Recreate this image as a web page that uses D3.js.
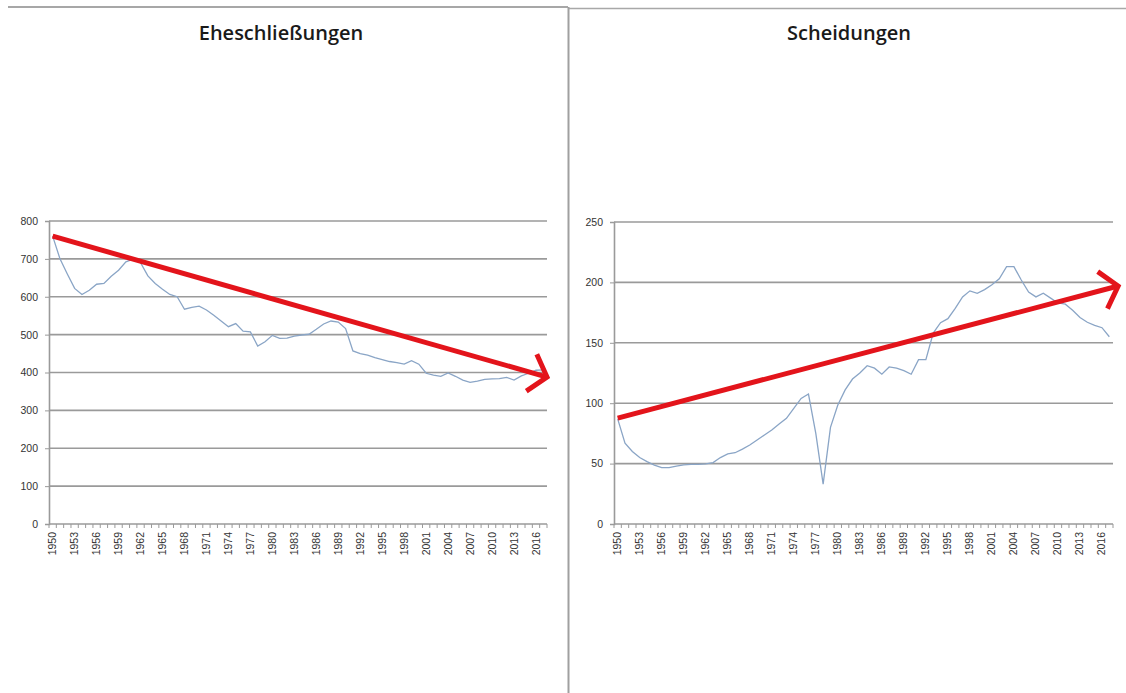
<!DOCTYPE html>
<html>
<head>
<meta charset="utf-8">
<script src="https://cdn.jsdelivr.net/npm/d3@7"></script>
<style>
    body { margin: 0; background: #fff; }
    svg { display: block; }
    .title { font-family: "Open Sans", sans-serif; font-weight: 600; font-size: 20px; fill: #1a1a1a; }
    .axis text { font-family: "Liberation Sans", Arial, sans-serif; font-size: 10.5px; fill: #333; }
</style>
</head>
<body>
<svg id="chart"></svg>
<script>
// years 1950..2017
const years = d3.range(1950, 2018)
const yearLabels = years.filter((y, i) => i % 3 === 0)

// Eheschließungen (in 1000)
const marriages = [
    760, 700, 660, 622, 606, 617, 633, 635, 654, 670,
    692, 699, 690, 655, 635, 620, 606, 600, 567, 572,
    575, 565, 551, 536, 521, 529, 509, 507, 470, 481,
    498, 490, 491, 496, 499, 501, 514, 528, 536, 533,
    516, 457, 450, 446, 439, 434, 429, 426, 422, 431,
    422, 398, 393, 390, 399, 390, 380, 374, 377, 382,
    383, 384, 387, 380, 391, 398, 406, 407
]

// Scheidungen (in 1000)
const divorces = [
    87, 67, 60, 55, 51.6, 48.8, 46.6, 46.6, 48, 49,
    49.4, 49.4, 49.7, 50.8, 55, 58, 59, 62, 65.4, 69.5,
    73.7, 77.8, 82.8, 87.5, 95.8, 104, 107.6, 75, 33, 80,
    98.5, 111, 120, 125, 131, 129, 124, 130, 129, 127,
    124, 136, 136, 158, 166.6, 170, 178.5, 188, 193, 191,
    194, 198, 203, 213, 213, 202, 192, 188, 191, 187,
    183, 182, 177, 171, 167, 164.5, 162.5, 155
]

// hand drawn trend arrows: [start, tip] as (year, value)
const marriageTrend = [[1950, 760], [2017.5, 388]]
const divorceTrend = [[1950, 87.7], [2018.2, 197]]

const marriageTicks = d3.range(0, 801, 100)
const divorceTicks = d3.range(0, 251, 50)

const W = 1126, H = 693
const svg = d3.select('#chart').attr('width', W).attr('height', H)

// panel frame lines
svg.append('line').attr('x1', 8).attr('x2', 568).attr('y1', 7).attr('y2', 7)
    .attr('stroke', '#8a8a8a').attr('stroke-width', 1.5)
svg.append('line').attr('x1', 568).attr('x2', W).attr('y1', 8.5).attr('y2', 8.5)
    .attr('stroke', '#a8a8a8').attr('stroke-width', 1.5)
svg.append('line').attr('x1', 568.5).attr('x2', 568.5).attr('y1', 7).attr('y2', H)
    .attr('stroke', '#a0a0a0').attr('stroke-width', 2)

function drawPanel(cfg) {
    const left = cfg.left, right = cfg.right, top = cfg.top, bottom = cfg.bottom

    svg.append('text')
        .attr('class', 'title')
        .attr('x', cfg.titleX).attr('y', 40)
        .attr('text-anchor', 'middle')
        .text(cfg.title)

    const x = d3.scaleBand().domain(years).range([left, right])
    // continuous version of the band scale (year -> center)
    const xc = d3.scaleLinear()
        .domain([years[0], years[years.length - 1]])
        .range([left + x.bandwidth() / 2, right - x.bandwidth() / 2])
    const y = d3.scaleLinear().domain([0, cfg.max]).range([bottom, top])

    const g = svg.append('g')

    // gridlines
    g.append('g').attr('class', 'grid')
        .selectAll('line')
        .data(cfg.ticks.slice(1))
        .join('line')
            .attr('x1', left).attr('x2', right)
            .attr('y1', d => y(d)).attr('y2', d => y(d))
            .attr('stroke', '#9a9a9a').attr('stroke-width', 1.6)

    // y axis
    const yAxis = d3.axisLeft(y).tickValues(cfg.ticks).tickSize(4).tickPadding(7)
    g.append('g').attr('class', 'axis y-axis')
        .attr('transform', `translate(${left},0)`)
        .call(yAxis)
        .call(a => a.select('.domain').attr('stroke', '#9a9a9a').attr('stroke-width', 1.6))
        .call(a => a.selectAll('.tick line').attr('stroke', '#9a9a9a'))

    // x axis: tick marks between categories
    const bounds = d3.range(years.length + 1).map(i => left + i * x.step())
    const xg = g.append('g').attr('class', 'axis x-axis')
    xg.append('line')
        .attr('x1', left).attr('x2', right).attr('y1', bottom).attr('y2', bottom)
        .attr('stroke', '#9a9a9a').attr('stroke-width', 1.6)
    xg.selectAll('.xtick')
        .data(bounds)
        .join('line')
            .attr('class', 'xtick')
            .attr('x1', d => d).attr('x2', d => d)
            .attr('y1', bottom).attr('y2', bottom + 4)
            .attr('stroke', '#9a9a9a').attr('stroke-width', 1)
    xg.selectAll('text')
        .data(yearLabels)
        .join('text')
            .attr('transform', d => `translate(${x(d) + x.bandwidth() / 2 + 3.5},${bottom + 8}) rotate(-90)`)
            .attr('text-anchor', 'end')
            .text(d => d)

    // series line
    const line = d3.line()
        .x((d, i) => x(years[i]) + x.bandwidth() / 2)
        .y(d => y(d))
    g.append('path')
        .datum(cfg.values)
        .attr('fill', 'none')
        .attr('stroke', '#8aa5c6')
        .attr('stroke-width', 1.3)
        .attr('d', line)

    // red trend arrow
    const p0 = [xc(cfg.trend[0][0]), y(cfg.trend[0][1])]
    const p1 = [xc(cfg.trend[1][0]), y(cfg.trend[1][1])]
    const back = Math.atan2(p0[1] - p1[1], p0[0] - p1[0])
    const barb = 25, spread = 50 * Math.PI / 180
    const b1 = [p1[0] + barb * Math.cos(back + spread), p1[1] + barb * Math.sin(back + spread)]
    const b2 = [p1[0] + barb * Math.cos(back - spread), p1[1] + barb * Math.sin(back - spread)]
    g.append('path')
        .attr('d', d3.line()([p0, p1]))
        .attr('stroke', '#e3141b').attr('stroke-width', 5).attr('fill', 'none')
    g.append('path')
        .attr('d', d3.line()([b1, p1, b2]))
        .attr('stroke', '#e3141b').attr('stroke-width', 5).attr('fill', 'none')
        .attr('stroke-linejoin', 'miter')
}

drawPanel({
    title: 'Eheschließungen', titleX: 281,
    left: 49, right: 547, top: 221, bottom: 524,
    max: 800, ticks: marriageTicks, values: marriages, trend: marriageTrend
})

drawPanel({
    title: 'Scheidungen', titleX: 849,
    left: 614, right: 1113, top: 222, bottom: 524,
    max: 250, ticks: divorceTicks, values: divorces, trend: divorceTrend
})
</script>
</body>
</html>
